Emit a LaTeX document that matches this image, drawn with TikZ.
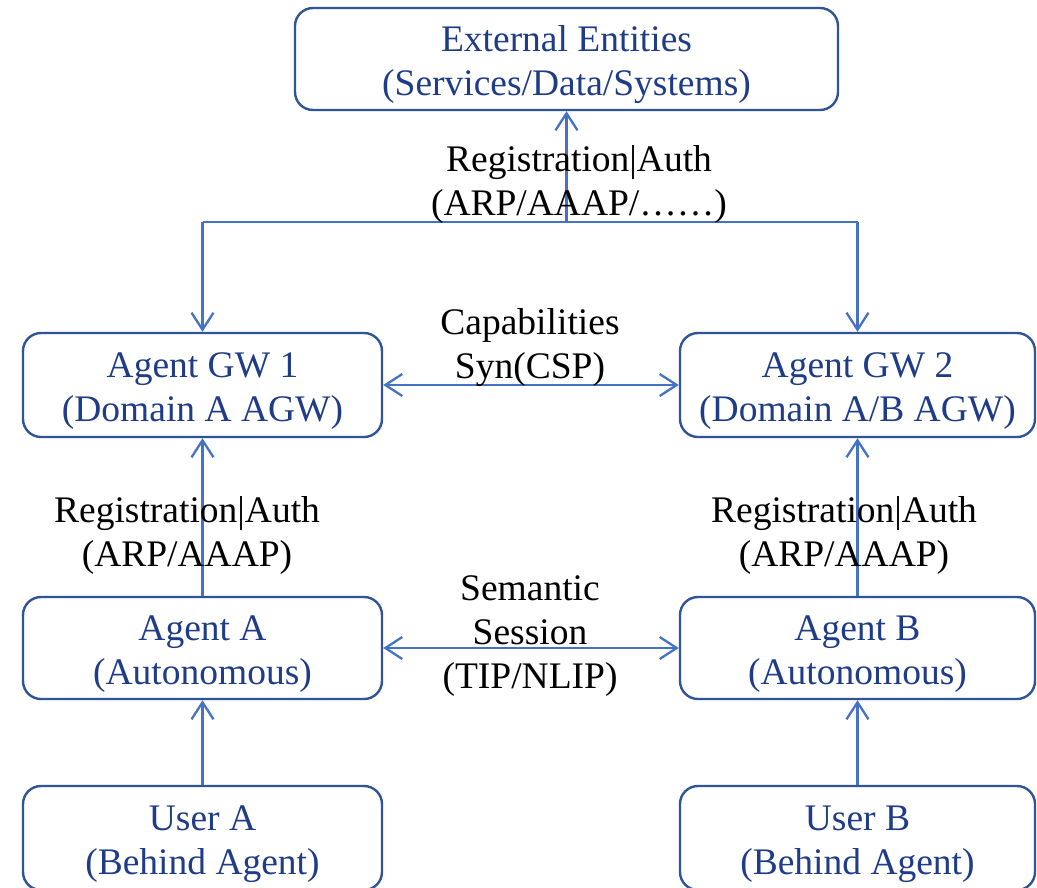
\documentclass[tikz,border=0pt]{standalone}
\usepackage{fontspec}
\setmainfont{Liberation Serif}
\usetikzlibrary{arrows.meta}
\definecolor{boxline}{HTML}{2F5597}
\definecolor{boxtext}{HTML}{1F3C88}
\definecolor{arrowc}{HTML}{4472C4}
\tikzset{
  entity/.style={draw=boxline, line width=2.4pt, rounded corners=18pt, inner sep=0pt},
  boxlab/.style={text=boxtext, align=center, inner sep=0pt, yshift=-6pt,
    font=\fontsize{37.5}{44}\selectfont},
  conn/.style={draw=arrowc, line width=2.3pt, -{Straight Barb[length=17pt,width=22pt,line width=2.3pt]}},
  bconn/.style={draw=arrowc, line width=2.3pt, {Straight Barb[length=17pt,width=22pt,line width=2.3pt]}-{Straight Barb[length=17pt,width=22pt,line width=2.3pt]}},
  lab/.style={align=center, inner sep=0pt, font=\fontsize{37.5}{44}\selectfont, text=black}
}
\begin{document}
\begin{tikzpicture}[x=1pt,y=-1pt]
\useasboundingbox (0,0) rectangle (1037,887);
\clip (0,0) rectangle (1037,887);
\node[entity, minimum width=543pt, minimum height=102pt, label={[boxlab]center:External Entities\\(Services/Data/Systems)}] (ext) at (566.5,59) {};
\node[entity, minimum width=359pt, minimum height=104pt, label={[boxlab]center:Agent GW 1\\(Domain A AGW)}] (gw1) at (202.5,385) {};
\node[entity, minimum width=355pt, minimum height=104pt, label={[boxlab]center:Agent GW 2\\(Domain A/B AGW)}] (gw2) at (857.5,385) {};
\node[entity, minimum width=359pt, minimum height=102pt, label={[boxlab]center:Agent A\\(Autonomous)}] (aa) at (202.5,648) {};
\node[entity, minimum width=355pt, minimum height=102pt, label={[boxlab]center:Agent B\\(Autonomous)}] (ab) at (857.5,648) {};
\node[entity, minimum width=359pt, minimum height=104pt, label={[boxlab]center:User A\\(Behind Agent)}] (ua) at (202.5,838) {};
\node[entity, minimum width=355pt, minimum height=104pt, label={[boxlab]center:User B\\(Behind Agent)}] (ub) at (857.5,838) {};

\coordinate (j) at (566.5,222);
\coordinate (jl) at (202.5,222);
\coordinate (jr) at (857.5,222);
\draw[conn] (j) -- (ext.south);
\draw[draw=arrowc, line width=2.3pt] (jl) -- (jr);
\draw[conn] (jl) -- (gw1.north);
\draw[conn] (jr) -- (gw2.north);
\draw[bconn] (gw1.east) -- (gw2.west);
\draw[bconn] (aa.east) -- (ab.west);
\draw[conn] (aa.north) -- (gw1.south);
\draw[conn] (ab.north) -- (gw2.south);
\draw[conn] (ua.north) -- (aa.south);
\draw[conn] (ub.north) -- (ab.south);

\node[lab] (l1) at (579,184) {Registration|Auth\\(ARP/AAAP/……)};
\node[lab] (l2) at (530,348) {Capabilities\\Syn(CSP)};
\node[lab] (l3) at (187,535) {Registration|Auth\\(ARP/AAAP)};
\node[lab] (l4) at (844,535) {Registration|Auth\\(ARP/AAAP)};
\node[lab] (l5) at (530,636) {Semantic\\Session\\(TIP/NLIP)};
\end{tikzpicture}
\end{document}
